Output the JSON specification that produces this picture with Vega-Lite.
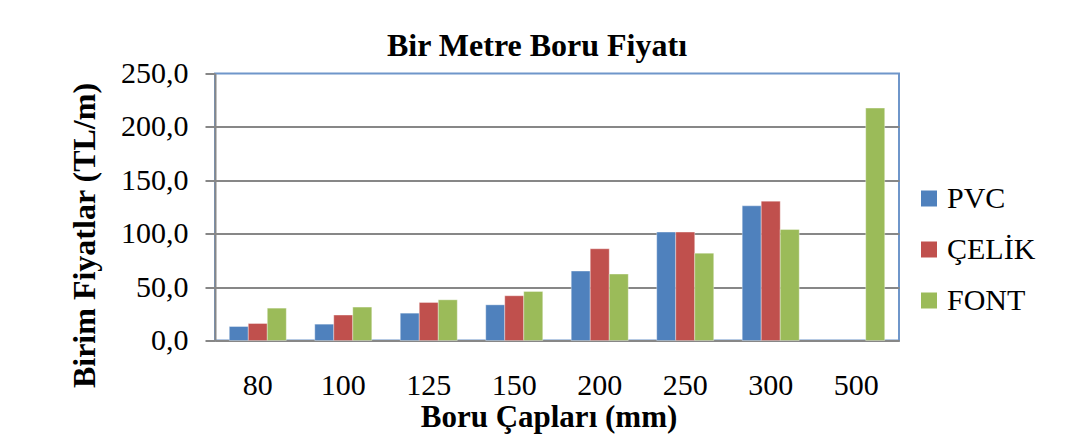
{
  "$schema": "https://vega.github.io/schema/vega-lite/v6.json",
  "width": 684,
  "height": 267,
  "autosize": {"type": "none"},
  "padding": {"left": 215, "top": 73.5, "right": 169, "bottom": 98.5},
  "background": "white",
  "title": {
    "text": "Bir Metre Boru Fiyatı",
    "font": "Liberation Serif",
    "fontSize": 32,
    "fontWeight": "bold",
    "color": "black",
    "anchor": "middle",
    "baseline": "alphabetic",
    "offset": -29,
    "dx": -20
  },
  "data": {
    "values": [
      {"cap": "80", "tip": "PVC", "fiyat": 13.1},
      {"cap": "80", "tip": "ÇELİK", "fiyat": 15.9},
      {"cap": "80", "tip": "FONT", "fiyat": 30.3},
      {"cap": "100", "tip": "PVC", "fiyat": 15.3},
      {"cap": "100", "tip": "ÇELİK", "fiyat": 23.8},
      {"cap": "100", "tip": "FONT", "fiyat": 31.3},
      {"cap": "125", "tip": "PVC", "fiyat": 25.6},
      {"cap": "125", "tip": "ÇELİK", "fiyat": 35.6},
      {"cap": "125", "tip": "FONT", "fiyat": 38.1},
      {"cap": "150", "tip": "PVC", "fiyat": 33.4},
      {"cap": "150", "tip": "ÇELİK", "fiyat": 41.9},
      {"cap": "150", "tip": "FONT", "fiyat": 45.9},
      {"cap": "200", "tip": "PVC", "fiyat": 65.0},
      {"cap": "200", "tip": "ÇELİK", "fiyat": 85.9},
      {"cap": "200", "tip": "FONT", "fiyat": 62.2},
      {"cap": "250", "tip": "PVC", "fiyat": 101.5},
      {"cap": "250", "tip": "ÇELİK", "fiyat": 101.5},
      {"cap": "250", "tip": "FONT", "fiyat": 81.8},
      {"cap": "300", "tip": "PVC", "fiyat": 126.1},
      {"cap": "300", "tip": "ÇELİK", "fiyat": 130.5},
      {"cap": "300", "tip": "FONT", "fiyat": 103.9},
      {"cap": "500", "tip": "FONT", "fiyat": 217.6}
    ]
  },
  "mark": {"type": "bar", "stroke": "white", "strokeWidth": 0.6, "strokeOpacity": 0.6},
  "encoding": {
    "x": {
      "field": "cap",
      "type": "ordinal",
      "sort": ["80", "100", "125", "150", "200", "250", "300", "500"],
      "scale": {"paddingInner": 0.333, "paddingOuter": 0.167},
      "axis": {
        "title": "Boru Çapları (mm)",
        "labelAngle": 0,
        "labelFont": "Liberation Serif",
        "labelFontSize": 30,
        "labelColor": "black",
        "labelBaseline": "alphabetic",
        "labelPadding": 54,
        "ticks": false,
        "tickSize": 0,
        "domainColor": "#878787",
        "domainWidth": 2,
        "titleFont": "Liberation Serif",
        "titleFontSize": 31,
        "titleFontWeight": "bold",
        "titleColor": "black",
        "titleBaseline": "alphabetic",
        "titleX": 333.5,
        "titleY": 86,
        "titleAnchor": null
      }
    },
    "xOffset": {"field": "tip", "type": "nominal", "sort": ["PVC", "ÇELİK", "FONT"]},
    "y": {
      "field": "fiyat",
      "type": "quantitative",
      "scale": {"domain": [0, 250], "nice": false},
      "axis": {
        "title": "Birim Fiyatlar (TL/m)",
        "values": [0, 50, 100, 150, 200, 250],
        "labelExpr": "replace(format(datum.value, '.1f'), '.', ',')",
        "labelFont": "Liberation Serif",
        "labelFontSize": 30,
        "labelColor": "black",
        "labelPadding": 17,
        "tickSize": 10,
        "tickColor": "#878787",
        "tickWidth": 2,
        "domainColor": "#878787",
        "domainWidth": 2,
        "grid": true,
        "gridColor": {"condition": {"test": "datum.value == 250", "value": "transparent"}, "value": "#878787"},
        "gridWidth": 2,
        "titleFont": "Liberation Serif",
        "titleFontSize": 32,
        "titleFontWeight": "bold",
        "titleColor": "black",
        "titleBaseline": "alphabetic",
        "titleAngle": -90,
        "titleX": -121,
        "titleY": 161.5
      }
    },
    "color": {
      "field": "tip",
      "type": "nominal",
      "sort": ["PVC", "ÇELİK", "FONT"],
      "scale": {"domain": ["PVC", "ÇELİK", "FONT"], "range": ["#4F81BD", "#C0504D", "#9BBB59"]},
      "legend": {
        "title": null,
        "orient": "none",
        "legendX": 699,
        "legendY": 110,
        "symbolType": "square",
        "symbolSize": 256,
        "symbolStrokeWidth": 0,
        "symbolOpacity": 1,
        "labelFont": "Liberation Serif",
        "labelFontSize": 30,
        "labelColor": "black",
        "labelOffset": 3,
        "rowPadding": 21
      }
    }
  },
  "config": {
    "view": {"stroke": "#6F96CA", "strokeWidth": 2}
  }
}
